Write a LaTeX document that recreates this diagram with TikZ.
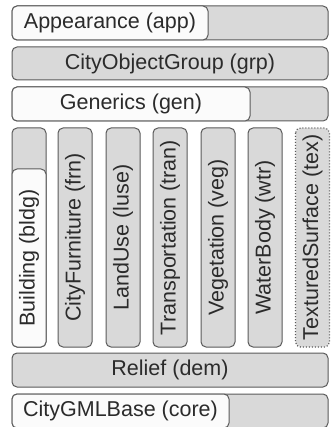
\documentclass[tikz,border=0pt]{standalone}
\usepackage{fontspec}
\setmainfont{Liberation Sans}
\usetikzlibrary{shapes}

\definecolor{boxgrey}{HTML}{D9D9D9}
\definecolor{boxwhite}{HTML}{FBFBFB}
\definecolor{boxline}{HTML}{5A5A5A}
\definecolor{boxtext}{HTML}{2B2B2B}

\tikzset{
  module/.style={shape=rectangle,rounded corners=5pt,draw=boxline,line width=1pt,
    inner sep=0pt,text=boxtext,font=\fontsize{21.5}{24}\selectfont},
  greybox/.style={module,fill=boxgrey},
  whitebox/.style={module,fill=boxwhite},
  row/.style={minimum height=34pt},
  col/.style={rotate=90,minimum width=219pt,minimum height=34pt},
  optional/.style={dotted,line width=1.2pt}
}

\begin{document}
\begin{tikzpicture}[x=1pt,y=-1pt]
\useasboundingbox (0,0) rectangle (332,427);

\node[greybox,row,minimum width=316pt] (app_bg) at (170,23) {};
\node[whitebox,row,minimum width=196pt] (app) at (110,23) {Appearance (app)};
\node[greybox,minimum height=33pt,minimum width=316pt] (grp) at (170,63.5) {CityObjectGroup (grp)};
\node[greybox,row,minimum width=316pt] (gen_bg) at (170,104) {};
\node[whitebox,row,minimum width=238pt] (gen) at (131,104) {Generics (gen)};

\node[greybox,col] (bldg_bg) at (29,237.5) {};
\node[whitebox,col,minimum width=178pt] (bldg) at (29,258) {Building (bldg)};
\node[greybox,col] (frn) at (75,237.5) {CityFurniture (frn)};
\node[greybox,col] (luse) at (123,237.5) {LandUse (luse)};
\node[greybox,col] (tran) at (170,237.5) {Transportation (tran)};
\node[greybox,col] (veg) at (218,237.5) {Vegetation (veg)};
\node[greybox,col] (wtr) at (265,237.5) {WaterBody (wtr)};
\node[greybox,col,optional] (tex) at (312.5,237.5) {TexturedSurface (tex)};

\node[greybox,row,minimum width=316pt] (dem) at (170,370) {Relief (dem)};
\node[greybox,row,minimum width=316pt] (core_bg) at (170,411) {};
\node[whitebox,row,minimum width=217pt] (core) at (120.5,411) {CityGMLBase (core)};
\end{tikzpicture}
\end{document}
